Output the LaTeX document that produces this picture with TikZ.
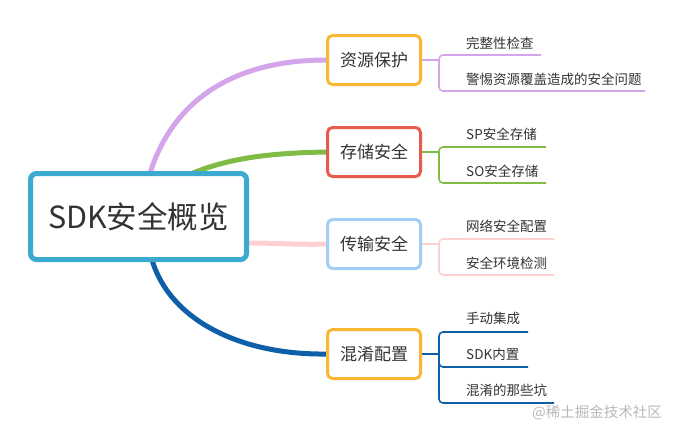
\documentclass[tikz,border=0pt]{standalone}
\usepackage{fontspec}
\setmainfont{Noto Sans CJK SC}
\usetikzlibrary{backgrounds}
\definecolor{rootc}{HTML}{3BAAD0}
\definecolor{orangec}{HTML}{FBB731}
\definecolor{redc}{HTML}{E65B4C}
\definecolor{lbluec}{HTML}{A3CEF7}
\definecolor{purplec}{HTML}{D4A5EA}
\definecolor{greenc}{HTML}{80BC45}
\definecolor{pinkc}{HTML}{FFD0D0}
\definecolor{bluec}{HTML}{0F5EA8}
\definecolor{txt}{HTML}{333333}
\begin{document}
\begin{tikzpicture}[x=1pt,y=-1pt,
  rootbox/.style={draw=rootc,line width=5pt,rounded corners=6pt,fill=white,minimum width=216pt,minimum height=86pt,text=txt,font=\fontsize{30.5}{33}\selectfont,inner sep=0pt},
  mainbox/.style={line width=3pt,rounded corners=5pt,fill=white,minimum width=93pt,minimum height=49pt,text=txt,font=\fontsize{17}{20}\selectfont,inner sep=0pt},
  leaf/.style={anchor=west,inner sep=0pt,text=txt,font=\fontsize{13.5}{16}\selectfont},
  mainlink/.style={line width=5pt},
  stub/.style={line width=2pt},
  twig/.style={line width=1.6pt,rounded corners=4pt}]
\useasboundingbox (0,0) rectangle (674,434);
\node[rootbox] (root) at (138.5,216.5) {SDK安全概览};
\node[mainbox,draw=orangec] (n1) at (374,60) {资源保护};
\node[mainbox,draw=redc] (n2) at (374,152) {存储安全};
\node[mainbox,draw=lbluec] (n3) at (374,244) {传输安全};
\node[mainbox,draw=orangec] (n4) at (374,354) {混淆配置};
\coordinate (r1) at (150,173);
\coordinate (r2) at (193,173);
\coordinate (r3) at (247,243);
\coordinate (r4) at (152,260);
\begin{pgfonlayer}{background}
\draw[mainlink,purplec] (r1) .. controls (175,95) and (240,60) .. (n1.west);
\draw[mainlink,greenc] (r2) .. controls (230,158) and (270,153) .. (n2.west);
\draw[mainlink,pinkc] (r3) .. controls (280,243) and (300,245) .. (n3.west);
\draw[mainlink,bluec] (r4) .. controls (170,320) and (240,355) .. (n4.west);
\end{pgfonlayer}
% branch 1
\coordinate (b1) at (439,60);
\coordinate (e11) at (541,55);
\coordinate (e12) at (645,91);
\draw[stub,purplec] (n1.east) -- (b1);
\draw[twig,purplec] (b1) |- (e11);
\draw[twig,purplec] (b1) |- (e12);
\node[leaf] (t11) at (466,43) {完整性检查};
\node[leaf] (t12) at (466,79) {警惕资源覆盖造成的安全问题};
% branch 2
\coordinate (b2) at (439,152);
\coordinate (e21) at (546,147);
\coordinate (e22) at (546,183);
\draw[stub,greenc] (n2.east) -- (b2);
\draw[twig,greenc] (b2) |- (e21);
\draw[twig,greenc] (b2) |- (e22);
\node[leaf] (t21) at (466,134) {SP安全存储};
\node[leaf] (t22) at (466,171) {SO安全存储};
% branch 3
\coordinate (b3) at (439,244);
\coordinate (e31) at (554,239);
\coordinate (e32) at (554,275);
\draw[stub,pinkc] (n3.east) -- (b3);
\draw[twig,pinkc] (b3) |- (e31);
\draw[twig,pinkc] (b3) |- (e32);
\node[leaf] (t31) at (466,226) {网络安全配置};
\node[leaf] (t32) at (466,263) {安全环境检测};
% branch 4
\coordinate (b4) at (439,354);
\coordinate (e41) at (528,332);
\coordinate (e42) at (528,367);
\coordinate (e43) at (554,403);
\draw[stub,bluec] (n4.east) -- (b4);
\draw[twig,bluec] (b4) |- (e41);
\draw[twig,bluec] (b4) -- (e42 -| b4) -- (e42);
\draw[twig,bluec] (b4) |- (e43);
\node[leaf] (t41) at (466,318) {手动集成};
\node[leaf] (t42) at (466,354) {SDK内置};
\node[leaf] (t43) at (466,390) {混淆的那些坑};
% watermark
\node[anchor=west,inner sep=0pt,text=black!28,font=\fontsize{14.5}{17}\selectfont] (wm) at (532,413) {@稀土掘金技术社区};
\end{tikzpicture}
\end{document}
